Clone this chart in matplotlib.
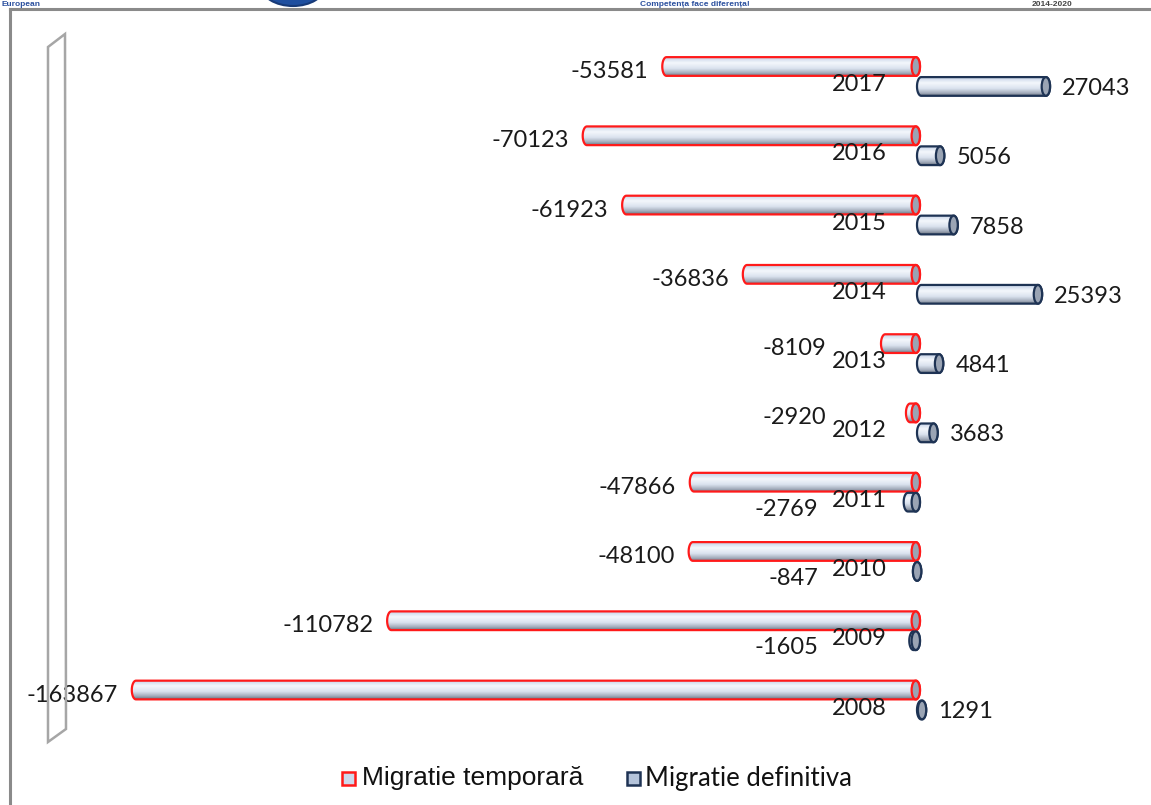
import numpy as np
import matplotlib
matplotlib.use("Agg")
import matplotlib.pyplot as plt
from matplotlib.patches import Polygon, Ellipse, Rectangle
from matplotlib.colors import LinearSegmentedColormap

years = ["2008", "2009", "2010", "2011", "2012", "2013", "2014", "2015", "2016", "2017"]
temporara = [-163867, -110782, -48100, -47866, -2920, -8109, -36836, -61923, -70123, -53581]
definitiva = [1291, -1605, -847, -2769, 3683, 4841, 25393, 7858, 5056, 27043]
legend_labels = ["Migratie temporară", "Migratie definitiva"]

W, H = 1151, 805
fig = plt.figure(figsize=(W / 100, H / 100), dpi=100)
ax = fig.add_axes([0, 0, 1, 1])
ax.set_axis_off()

upp = 207.9  # data units per pixel along x
x_lo, x_hi = -920 * upp, (W - 920) * upp
y_lo = -105 / 69.28
y_hi = y_lo + H / 69.28


def px(x, y):
    return x / W, 1 - y / H


body_cmap = LinearSegmentedColormap.from_list(
    "cyl", [(0, "#c3d1e6"), (0.3, "#f4f7fc"), (0.6, "#dbe3ef"), (0.85, "#a3acbb"), (1, "#6e7785")])
grad = np.linspace(0, 1, 64).reshape(-1, 1)

h = 0.27
a = 4.2 * upp


def cylinder(v, yc, edge, shift=0.0):
    x0, x1 = min(0, v) - shift, max(0, v)
    cl = x0 + a
    cr = max(x1 - a, cl)
    t = np.linspace(np.pi / 2, 3 * np.pi / 2, 30)
    left = np.column_stack([cl + a * np.cos(t), yc + h / 2 * np.sin(t)])
    t2 = np.linspace(-np.pi / 2, np.pi / 2, 30)
    right = np.column_stack([cr + a * np.cos(t2), yc + h / 2 * np.sin(t2)])
    pts = np.vstack([left, right])
    body = Polygon(pts, closed=True, facecolor="none", edgecolor=edge, lw=1.6, zorder=3)
    ax.add_patch(body)
    im = ax.imshow(grad, cmap=body_cmap, extent=(cl - a, cr + a, yc - h / 2, yc + h / 2),
                   aspect="auto", zorder=2, interpolation="bilinear")
    im.set_clip_path(body)
    cap = Ellipse((cr, yc), 2 * a, h, facecolor="#9aa4b4", edgecolor=edge, lw=1.6, zorder=4)
    ax.add_patch(cap)


font_num = "Lato"
fs = 17
for i, yr in enumerate(years):
    yt = i + 0.144
    yd = i - 0.144
    cylinder(temporara[i], yt, "#ff1a1a")
    cylinder(definitiva[i], yd, "#1e3354", shift=3 * upp)

    vt = temporara[i]
    xt = min(vt - 14 * upp, -19500)
    ax.text(xt, yt - 5 / 69.28, str(vt), ha="right", va="center", fontsize=fs,
            family=font_num, color="#1a1a1a", zorder=5)
    vd = definitiva[i]
    if vd >= 0:
        ax.text(vd + 12 * upp, yd - 2 / 69.28, str(vd), ha="left", va="center",
                fontsize=fs, family=font_num, color="#1a1a1a", zorder=5)
    else:
        ax.text(-102 * upp, yd - 7 / 69.28, str(vd), ha="right", va="center",
                fontsize=fs, family=font_num, color="#1a1a1a", zorder=5)
    ax.text(-33 * upp, i - 8 / 69.28, yr, ha="right", va="center", fontsize=fs,
            family=font_num, color="#1a1a1a", zorder=5)

ax.set_xlim(x_lo, x_hi)
ax.set_ylim(y_lo, y_hi)

# side wall of the 3D chart
wall = Polygon([px(48, 47), px(65, 34), px(66, 729), px(48, 742)], closed=True,
               transform=fig.transFigure, facecolor="none", edgecolor="#a6a6a6", lw=1.8)
fig.add_artist(wall)

# page frame
fig.add_artist(plt.Line2D([10 / W, 1], [1 - 9.5 / H] * 2, transform=fig.transFigure,
                          color="#8a8a8a", lw=2.2))
fig.add_artist(plt.Line2D([10 / W] * 2, [0, 1 - 9.5 / H], transform=fig.transFigure,
                          color="#8a8a8a", lw=2.2))

# page header (only a strip of it shows in the reference)
fig.text(*px(1, 4), "European", ha="left", va="center", fontsize=6, weight="bold",
         color="#2a4f9e", family="Liberation Sans")
fig.text(*px(695, 4), "Competența face diferența!", ha="center", va="center", fontsize=6,
         weight="bold", color="#2a4f9e", family="Liberation Sans")
fig.text(*px(1052, 4), "2014-2020", ha="center", va="center", fontsize=6, weight="bold",
         color="#444444", family="Liberation Sans")
fig.add_artist(Ellipse(px(293, -14), 64 / W, 40 / H, transform=fig.transFigure,
                       facecolor="#1f4f9f", edgecolor="#173a78", lw=1.5))
fig.add_artist(Ellipse(px(293, -16), 52 / W, 30 / H, transform=fig.transFigure,
                       facecolor="none", edgecolor="white", lw=1.2))

# legend
fig.add_artist(Rectangle(px(342, 785), 13 / W, 13 / H, transform=fig.transFigure,
                         facecolor="#cdd9ec", edgecolor="#ff1a1a", lw=1.8))
fig.text(*px(362, 778), legend_labels[0], ha="left", va="center", fontsize=19,
         family="Liberation Sans", color="#111111")
fig.add_artist(Rectangle(px(627, 785), 13 / W, 13 / H, transform=fig.transFigure,
                         facecolor="#b4c3da", edgecolor="#1e3354", lw=1.8))
fig.text(*px(645, 778), legend_labels[1], ha="left", va="center", fontsize=18.5,
         family="Lato", color="#111111")

fig.savefig("out.png", dpi=100)
